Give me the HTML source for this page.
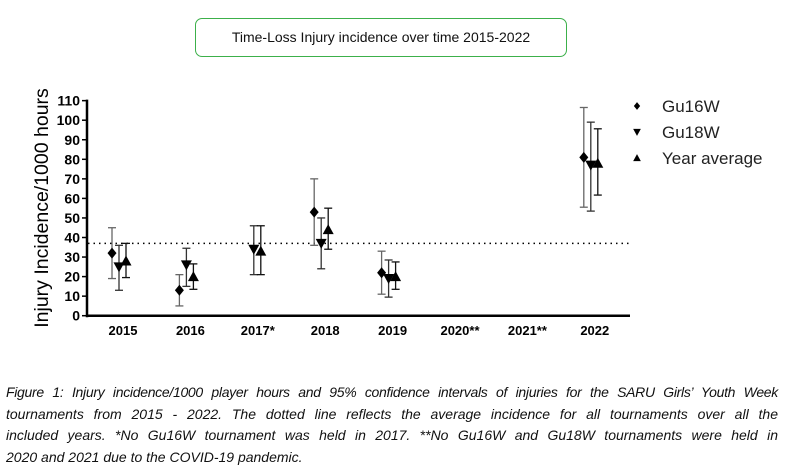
<!DOCTYPE html>
<html><head><meta charset="utf-8"><style>
body{margin:0;background:#fff;width:790px;height:475px;overflow:hidden;font-family:"Liberation Sans",sans-serif;position:relative}
#title{position:absolute;left:195px;top:18px;width:370px;height:37px;border:1.5px solid #3cb04a;border-radius:7px;font-size:14px;line-height:37px;text-align:center;color:#111}
#cap{position:absolute;left:6px;top:382px;width:772px;font-style:italic;font-size:14px;color:#111}
#cap div{height:21.7px;line-height:21.7px;text-align:justify;text-align-last:justify;white-space:nowrap}
#cap div.last{text-align-last:left}
</style></head><body>
<div id="title">Time-Loss Injury incidence over time 2015-2022</div>
<svg id="chart" width="790" height="380" style="position:absolute;left:0;top:0"></svg>
<div id="cap">
<div style="letter-spacing:-0.3px">Figure 1: Injury incidence/1000 player hours and 95% confidence intervals of injuries for the SARU Girls’ Youth Week</div>
<div>tournaments from 2015 - 2022. The dotted line reflects the average incidence for all tournaments over all the</div>
<div>included years. *No Gu16W tournament was held in 2017. **No Gu16W and Gu18W tournaments were held in</div>
<div class="last">2020 and 2021 due to the COVID-19 pandemic.</div>
</div>
<script>
const categories=["2015","2016","2017*","2018","2019","2020**","2021**","2022"];
const gu16=[32,13,null,53,22,null,null,81];
const gu16Lo=[19,5,null,36,11,null,null,55.5];
const gu16Hi=[45,21,null,70,33,null,null,106.5];
const gu18=[25,26,34,37,19,null,null,77];
const gu18Lo=[13,15,21,24,9.5,null,null,53.5];
const gu18Hi=[36,34.5,46,50,28.5,null,null,99];
const avg=[28,20,33,44,20,null,null,78];
const avgLo=[19.5,13.5,21,34,13.5,null,null,61.7];
const avgHi=[37,26.5,46,55,27.5,null,null,95.6];
const overallAvg=37;
const yTicks=[0,10,20,30,40,50,60,70,80,90,100,110];
const seriesNames=["Gu16W","Gu18W","Year average"];

const svg=document.getElementById('chart');const NS='http://www.w3.org/2000/svg';
const y0=315.7,yk=1.955;const Y=v=>y0-v*yk;
const X=i=>123+i*67.4;
function mk(t,a,p){const e=document.createElementNS(NS,t);for(const k in a)e.setAttribute(k,a[k]);(p||svg).appendChild(e);return e;}
const ax=mk('line',{x1:87,y1:Y(110)-1,x2:87,y2:y0+1.5,stroke:'#000','stroke-width':2.5});

const xa=mk('line',{x1:86,y1:y0,x2:630,y2:y0,stroke:'#000','stroke-width':2.5});

yTicks.forEach(v=>{
 const t=mk('line',{x1:82,y1:Y(v),x2:87,y2:Y(v),stroke:'#000','stroke-width':1.5});
 
 const l=mk('text',{x:80,y:Y(v)+5,'text-anchor':'end','font-size':14,'font-weight':'bold','font-family':'Liberation Sans, sans-serif'});
 l.textContent=v;
});
categories.forEach((c,i)=>{
 const l=mk('text',{x:X(i),y:335,'text-anchor':'middle','font-size':13,'font-weight':'bold','font-family':'Liberation Sans, sans-serif'});
 l.textContent=c;
});
const yl=mk('text',{x:0,y:0,transform:'translate(48,208) rotate(-90)','text-anchor':'middle','font-size':19.5,'font-family':'Liberation Sans, sans-serif'});
yl.textContent='Injury Incidence/1000 hours';
const dl=mk('line',{x1:88,y1:Y(overallAvg),x2:630,y2:Y(overallAvg),stroke:'#000','stroke-width':1.5,'stroke-dasharray':'1.5,4'});

function marker(type,x,y,p){
 let e;
 if(type===0)e=mk('polygon',{points:`${x},${y-5.5} ${x+4.5},${y} ${x},${y+5.5} ${x-4.5},${y}`,fill:'#000'},p);
 else if(type===1)e=mk('polygon',{points:`${x-5.5},${y-4.5} ${x+5.5},${y-4.5} ${x},${y+5.5}`,fill:'#000'},p);
 else e=mk('polygon',{points:`${x-5.5},${y+4.5} ${x+5.5},${y+4.5} ${x},${y-5.5}`,fill:'#000'},p);
 return e;
}
const S=[[gu16,gu16Lo,gu16Hi],[gu18,gu18Lo,gu18Hi],[avg,avgLo,avgHi]];
const cols=['#666','#333','#111'];
S.forEach((s,si)=>{
 const off=(si-1)*7-4;
 s[0].forEach((v,i)=>{
  if(v===null)return;
  const x=X(i)+off;
  const g=mk('g',{});
  
  
  mk('line',{x1:x,y1:Y(s[1][i]),x2:x,y2:Y(s[2][i]),stroke:cols[si],'stroke-width':1.3},g);
  mk('line',{x1:x-4,y1:Y(s[1][i]),x2:x+4,y2:Y(s[1][i]),stroke:cols[si],'stroke-width':1.3},g);
  mk('line',{x1:x-4,y1:Y(s[2][i]),x2:x+4,y2:Y(s[2][i]),stroke:cols[si],'stroke-width':1.3},g);
  marker(si,x,Y(v),g);
 });
});
seriesNames.forEach((n,i)=>{
 const g=mk('g',{});
 
 
 const yy=106+i*26;
 const m=marker(i,637,yy,g);m.setAttribute('transform',`translate(637,${yy}) scale(0.7) translate(-637,${-yy})`);
 const t=mk('text',{x:662,y:yy+6,'font-size':17,fill:'#222','font-family':'Liberation Sans, sans-serif'},g);t.textContent=n;
});
</script>
</body></html>
